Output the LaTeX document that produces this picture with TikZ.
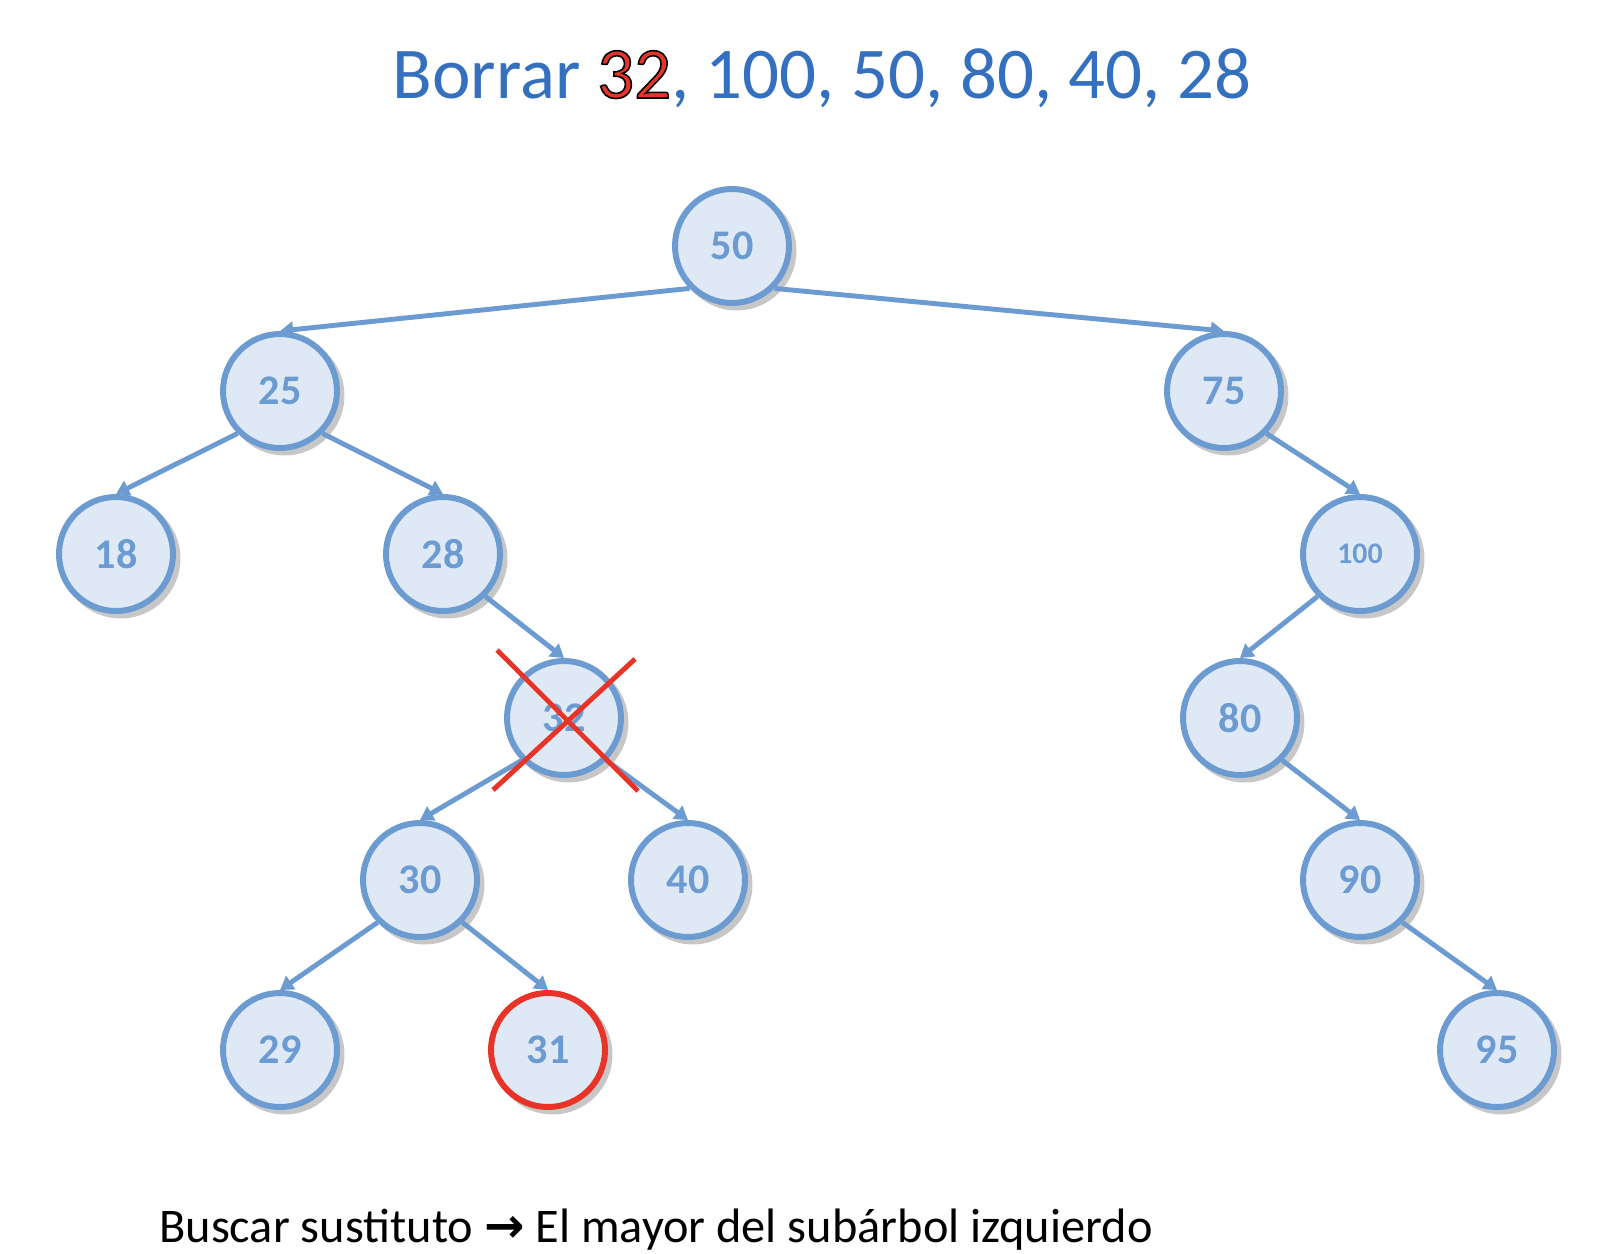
\documentclass[tikz,border=0pt]{standalone}
\usepackage{fontspec}
\setmainfont{Carlito}
\newfontfamily\arrowfont{DejaVu Sans}
\usetikzlibrary{arrows.meta,shadows}
\definecolor{nodeblue}{RGB}{108,155,210}
\definecolor{nodefill}{RGB}{223,233,245}
\definecolor{titleblue}{RGB}{52,112,190}
\definecolor{crossred}{RGB}{232,52,40}
\newcommand{\outlined}[1]{\textcolor{crossred}{\special{pdf:literal direct 2 Tr 0.9 w 0 0 0 RG}#1\special{pdf:literal direct 0 Tr}}}
\begin{document}
\begin{tikzpicture}
\tikzstyle{bst}     = [circle, draw=nodeblue, line width=3.4pt, fill=nodefill, minimum size=2.28cm, inner sep=0pt, text=nodeblue, font=\bfseries\fontsize{24}{24}\selectfont, drop shadow={shadow xshift=2.5pt, shadow yshift=-2.5pt, shadow scale=1.05, opacity=0.22, fill=black}]
\tikzstyle{bstedge} = [-{Triangle[width=9pt, length=7.5pt]}, line width=2.8pt, draw=nodeblue]
\tikzstyle{cross}   = [line width=2.8pt, draw=crossred]
\useasboundingbox (0.00, 0.00) rectangle (32.12, -25.08);
\node[anchor=base, text=titleblue, font=\fontsize{41.5}{41.5}\selectfont] at (16.44, -1.96) (title) {Borrar \outlined{32}, 100, 50, 80, 40, 28};
\node[bst] at (14.64, -4.92) (n_50) {50};
\node[bst] at (5.60, -7.82) (n_25) {25};
\node[bst] at (24.48, -7.82) (n_75) {75};
\node[bst] at (2.32, -11.08) (n_18) {18};
\node[bst] at (8.86, -11.08) (n_28) {28};
\node[bst, font=\bfseries\fontsize{17}{17}\selectfont] at (27.20, -11.08) (n_100) {100};
\node[bst] at (11.28, -14.36) (n_32) {32};
\node[bst] at (24.80, -14.36) (n_80) {80};
\node[bst] at (8.40, -17.60) (n_30) {30};
\node[bst] at (13.76, -17.60) (n_40) {40};
\node[bst] at (27.20, -17.60) (n_90) {90};
\node[bst] at (5.60, -21.00) (n_29) {29};
\node[bst, draw=crossred] at (10.96, -21.00) (n_31) {31};
\node[bst] at (29.94, -21.00) (n_95) {95};
\draw[bstedge] (n_50.south west) -- (n_25.north);
\draw[bstedge] (n_50.south east) -- (n_75.north);
\draw[bstedge] (n_25.south west) -- (n_18.north);
\draw[bstedge] (n_25.south east) -- (n_28.north);
\draw[bstedge] (n_28.south east) -- (n_32.north);
\draw[bstedge] (n_32.south west) -- (n_30.north);
\draw[bstedge] (n_32.south east) -- (n_40.north);
\draw[bstedge] (n_30.south west) -- (n_29.north);
\draw[bstedge] (n_30.south east) -- (n_31.north);
\draw[bstedge] (n_75.south east) -- (n_100.north);
\draw[bstedge] (n_100.south west) -- (n_80.north);
\draw[bstedge] (n_80.south east) -- (n_90.north);
\draw[bstedge] (n_90.south east) -- (n_95.north);
% tachar el 32
\draw[cross] (9.94, -13.00) -- (12.76, -15.82);
\draw[cross] (12.70, -13.18) -- (9.86, -15.80);
\node[anchor=base west, inner sep=0pt, font=\fontsize{27.5}{27.5}\selectfont] at (3.18, -24.84) (hint) {Buscar sustituto {\arrowfont\bfseries →} El mayor del subárbol izquierdo};
\end{tikzpicture}
\end{document}
